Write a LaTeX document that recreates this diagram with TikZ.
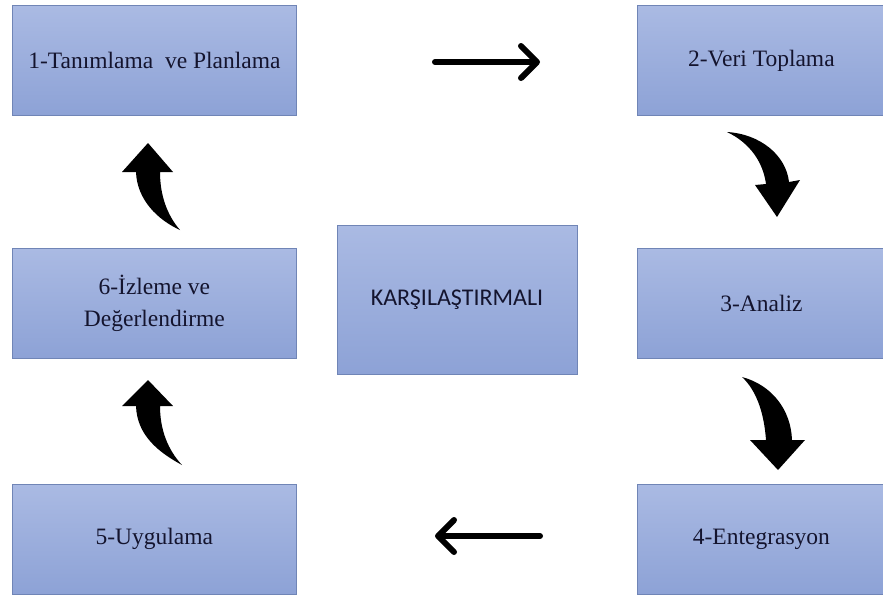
\documentclass[tikz,border=0pt]{standalone}
\usepackage{fontspec}
\setmainfont{Liberation Serif}
\newfontfamily\calibrifont{Carlito}
\usetikzlibrary{positioning}
\usetikzlibrary{arrows.meta}

\definecolor{boxtop}{HTML}{AABAE3}
\definecolor{boxbottom}{HTML}{8DA2D6}
\definecolor{boxline}{HTML}{7085B6}
\definecolor{boxtext}{HTML}{14142E}

\tikzset{
  stepbox/.style={draw=boxline, line width=0.8pt, top color=boxtop, bottom color=boxbottom,
    minimum width=284pt, minimum height=110pt, inner sep=0pt, align=center,
    text=boxtext, font=\fontsize{23.5}{32}\selectfont},
  sidebox/.style={stepbox, minimum width=248pt},
  centerbox/.style={stepbox, minimum width=240pt, minimum height=149pt,
    font=\calibrifont\fontsize{24}{28}\selectfont},
  flowarrow/.style={line width=6pt, line cap=round,
    -{Straight Barb[length=16pt,width=32pt,round]}},
}

\begin{document}
\begin{tikzpicture}[x=1pt,y=-1pt]
  \useasboundingbox (0,0) rectangle (883,597);

  % steps
  \node[stepbox, anchor=north west] (plan) at (12,5) {1-Tanımlama~ ve Planlama};
  \node[sidebox, anchor=north west] (veri) at (637,5) {2-Veri Toplama};
  \node[sidebox, below=132pt of veri] (analiz) {3-Analiz};
  \node[sidebox, below=125pt of analiz] (entegrasyon) {4-Entegrasyon};
  \node[stepbox, below=132pt of plan] (izleme) {6-İzleme ve\\Değerlendirme};
  \node[stepbox, below=125pt of izleme] (uygulama) {5-Uygulama};
  \node[centerbox] (karsi) at (457,299.5) {KARŞILAŞTIRMALI};

  % straight arrows
  \coordinate (ustA) at (435,62);
  \coordinate (ustB) at (540,62);
  \coordinate (altA) at (540,536);
  \coordinate (altB) at (435,536);
  \draw[flowarrow] (ustA) -- (ustB);
  \draw[flowarrow] (altA) -- (altB);

  % bent block arrows
  \fill (727,132) .. controls (760,134) and (786,155) .. (789,182) -- (800,180)
    -- (777,217) -- (755,185) -- (766,184) .. controls (763,162) and (750,143) .. cycle;
  \fill (742,377) .. controls (772,385) and (791,410) .. (792,440) -- (805,440)
    -- (778,470) -- (750,440) -- (766,440) .. controls (764,412) and (756,390) .. cycle;
  \fill (180,230) .. controls (158,220) and (137,200) .. (136,172) -- (122,172)
    -- (148,143) -- (173,172) -- (160,172) .. controls (160,195) and (167,215) .. cycle;
  \fill (182,465) .. controls (158,452) and (137,435) .. (136,406) -- (122,406)
    -- (148,380) -- (173,406) -- (160,406) .. controls (160,430) and (168,450) .. cycle;
\end{tikzpicture}
\end{document}
